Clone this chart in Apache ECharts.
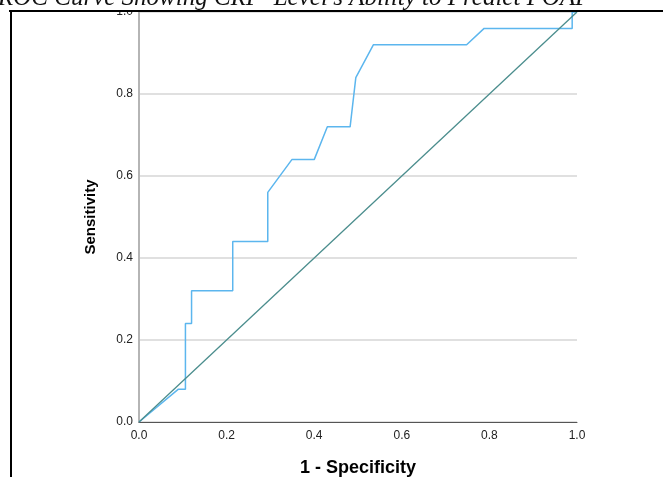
<!DOCTYPE html>
<html>
<head>
<meta charset="utf-8">
<script src="https://cdn.jsdelivr.net/npm/echarts@6/dist/echarts.min.js"></script>
<style>
html,body{margin:0;padding:0;background:#fff;}
#chart{width:663px;height:477px;}
</style>
</head>
<body>
<div id="chart"></div>
<script>
// ROC curve points (1 - Specificity, Sensitivity)
var rocX = [0, 0.09, 0.106, 0.106, 0.12, 0.12, 0.214, 0.214, 0.294, 0.294, 0.349, 0.40, 0.43, 0.482, 0.495, 0.535, 0.748, 0.788, 0.989, 0.989, 1.0];
var rocY = [0, 0.08, 0.08, 0.24, 0.24, 0.32, 0.32, 0.44, 0.44, 0.56, 0.64, 0.64, 0.72, 0.72, 0.84, 0.92, 0.92, 0.96, 0.96, 1.0, 1.0];
// Reference (chance) line
var refX = [0, 1];
var refY = [0, 1];
var tickValues = [0, 0.2, 0.4, 0.6, 0.8, 1.0];
var titleText = "ROC Curve Showing CRP  Level's Ability to Predict POAF";
var xName = "1 - Specificity";
var yName = "Sensitivity";

function pairs(xs, ys){ return xs.map(function(x,i){ return [x, ys[i]]; }); }

var chart = echarts.init(document.getElementById('chart'), null, {renderer:'canvas'});
var labelStyle = {color:'#222', fontSize:12, fontFamily:'Liberation Sans, Arial, sans-serif',
  formatter:function(v){ return v.toFixed(1); }};
chart.setOption({
  animation:false,
  backgroundColor:'#fff',
  grid:{left:139, right:86, top:12, bottom:55, containLabel:false, outerBoundsMode:'none'},
  xAxis:{type:'value', min:0, max:1, interval:0.2,
    name:xName, nameLocation:'middle', nameGap:37,
    nameTextStyle:{fontSize:18, fontWeight:'bold', color:'#000', fontFamily:'Liberation Sans, Arial, sans-serif'},
    axisLine:{show:true, lineStyle:{color:'#555', width:1}},
    axisTick:{show:false},
    axisLabel:Object.assign({margin:8}, labelStyle),
    splitLine:{show:false}},
  yAxis:{type:'value', min:0, max:1, interval:0.2,
    name:yName, nameLocation:'middle', nameGap:41, nameRotate:90,
    nameTextStyle:{fontSize:15, fontWeight:'bold', color:'#000', fontFamily:'Liberation Sans, Arial, sans-serif'},
    axisLine:{show:true, lineStyle:{color:'#b5b5b5', width:2}},
    axisTick:{show:false},
    axisLabel:Object.assign({margin:6}, labelStyle),
    splitLine:{show:true, lineStyle:{color:'#d6d6d6', width:1.5}}},
  series:[
    {type:'line', data:pairs(refX, refY), showSymbol:false, symbol:'none',
     lineStyle:{color:'#4b8d8d', width:1.3}, z:3},
    {type:'line', data:pairs(rocX, rocY), showSymbol:false, symbol:'none',
     lineStyle:{color:'#5cb6ee', width:1.5}, z:2}
  ],
  graphic:[
    {type:'rect', left:0, top:0, shape:{x:0,y:0,width:663,height:11}, style:{fill:'#fff'}, z:100},
    {type:'text', x:-2, y:11, z:101,
     style:{text:titleText, font:'italic 25px "Liberation Serif", "DejaVu Serif", serif', fill:'#111', verticalAlign:'bottom', align:'left'}},
    {type:'line', z:102, shape:{x1:9, y1:11, x2:663, y2:11}, style:{stroke:'#000', lineWidth:2}},
    {type:'line', z:102, shape:{x1:11, y1:11, x2:11, y2:477}, style:{stroke:'#000', lineWidth:2}}
  ]
});
</script>
</body>
</html>
